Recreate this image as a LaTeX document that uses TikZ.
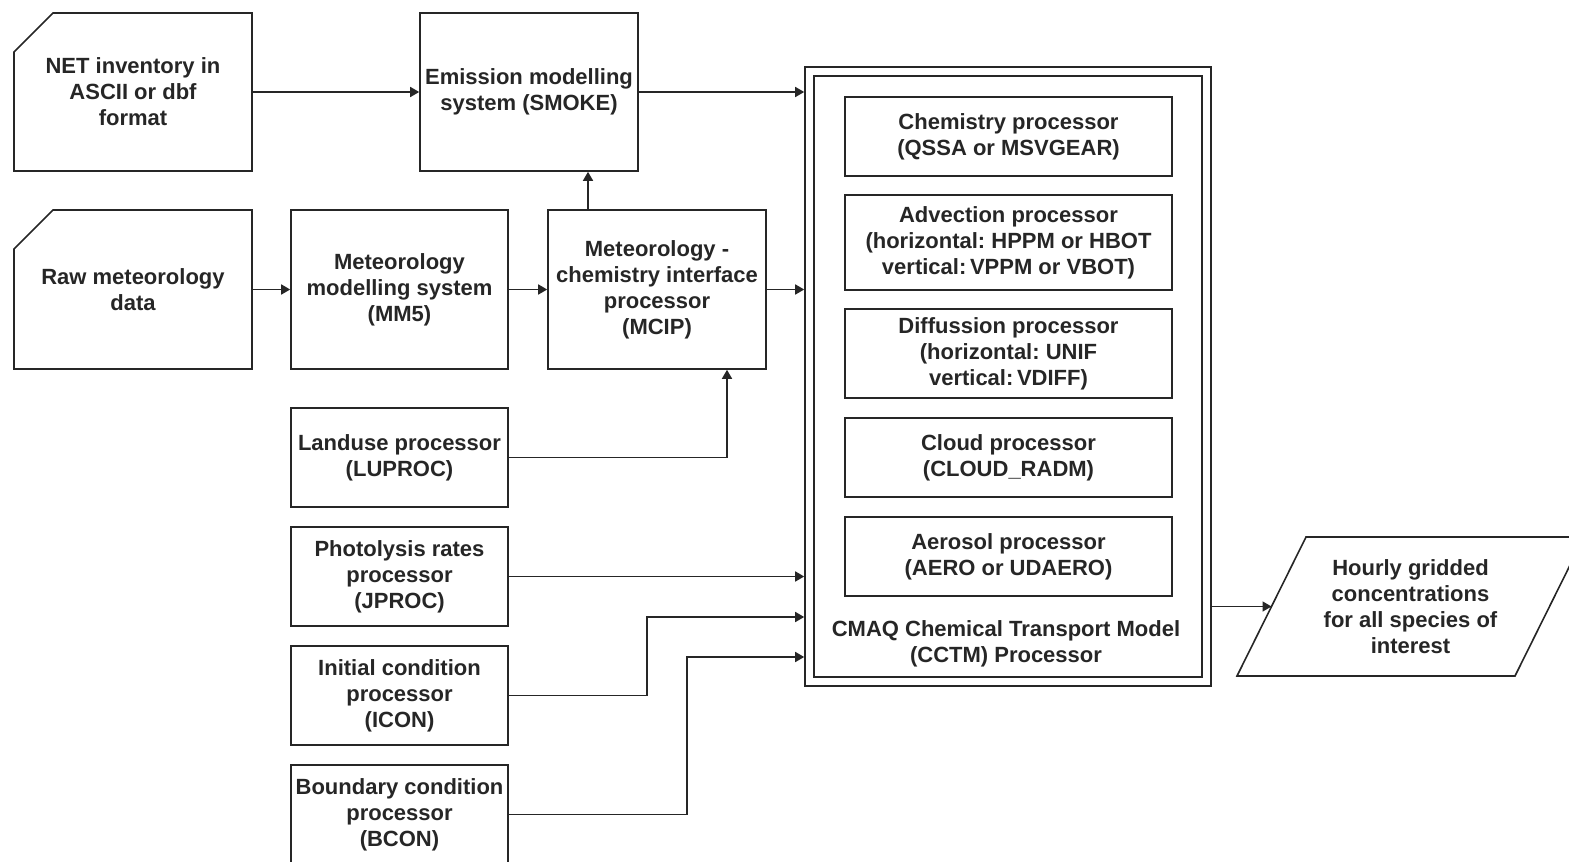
\documentclass[tikz,border=0pt]{standalone}
\usepackage{fontspec}
\setmainfont{Liberation Sans}
\frenchspacing
\usetikzlibrary{arrows.meta}
\tikzset{
  proc/.style={draw=black!85,line width=0.8pt,align=center,inner sep=1pt,
    font=\bfseries\fontsize{11}{13}\selectfont,text=black!85},
  datain/.style={proc,draw=none,outer sep=0pt},
  edge/.style={draw=black!85,line width=0.8pt},
  flow/.style={edge,-{Triangle[length=4.5pt,width=5pt]}}
}
\begin{document}
\begin{tikzpicture}[x=0.5pt,y=-0.5pt]
                \useasboundingbox (0,0) rectangle (1569,862);
                %% input data
                \node[datain,minimum width=119pt,minimum height=79pt] (net) at (133,92) {NET inventory in\\ASCII or dbf\\format};
                \node[datain,minimum width=119pt,minimum height=79.5pt] (raw) at (133,289.5) {Raw meteorology\\data};
                \foreach \n in {net,raw}
                  \draw[edge] ([yshift=-19.5pt]\n.north west) -- ([xshift=19.5pt]\n.north west) -- (\n.north east)
                    -- (\n.south east) -- (\n.south west) -- cycle;
                %% pre-processors
                \node[proc,minimum width=109pt,minimum height=79pt] (emis) at (529,92) {Emission modelling\\system (SMOKE)};
                \node[proc,minimum width=108.5pt,minimum height=79.5pt] (mm5) at (399.5,289.5) {Meteorology\\modelling system\\(MM5)};
                \node[proc,minimum width=109pt,minimum height=79.5pt] (mcip) at (657,289.5) {Meteorology -\\chemistry interface\\processor\\(MCIP)};
                \node[proc,minimum width=108.5pt,minimum height=49.5pt] (landuse) at (399.5,457.5) {Landuse processor\\(LUPROC)};
                \node[proc,minimum width=108.5pt,minimum height=49.5pt] (photo) at (399.5,576.5) {Photolysis rates\\processor\\(JPROC)};
                \node[proc,minimum width=108.5pt,minimum height=49.5pt] (icon) at (399.5,695.5) {Initial condition\\processor\\(ICON)};
                \node[proc,minimum width=108.5pt,minimum height=49.5pt] (bcon) at (399.5,814.5) {Boundary condition\\processor\\(BCON)};
                %% CCTM
                \node[proc,minimum width=203pt,minimum height=309.5pt] (cctm) at (1008,376.5) {};
                \draw[edge] ([xshift=5pt,yshift=-5pt]cctm.north west) rectangle ([xshift=-5pt,yshift=5pt]cctm.south east);
                \node[proc,minimum width=163.5pt,minimum height=39.5pt] (chem) at (1008.5,136.5) {Chemistry processor\\(QSSA or MSVGEAR)};
                \node[proc,minimum width=163.5pt,minimum height=47.5pt] (adv) at (1008.5,242.5) {Advection processor\\(horizontal: HPPM or HBOT\\vertical:\,VPPM or VBOT)};
                \node[proc,minimum width=163.5pt,minimum height=44.5pt] (diff) at (1008.5,353.5) {Diffussion processor\\(horizontal: UNIF\\vertical:\,VDIFF)};
                \node[proc,minimum width=163.5pt,minimum height=39.5pt] (cloud) at (1008.5,457.5) {Cloud processor\\(CLOUD\_RADM)};
                \node[proc,minimum width=163.5pt,minimum height=39.5pt] (aero) at (1008.5,556.5) {Aerosol processor\\(AERO or UDAERO)};
                \node[proc,draw=none] (cctmname) at (1006,644) {CMAQ Chemical Transport Model\\(CCTM) Processor};
                %% output
                \node[proc,draw=none] (hourly) at (1410.5,606.5) {Hourly gridded\\concentrations\\for all species of\\interest};
                \draw[edge] (1306,537) -- (1584,537) -- (1515,676) -- (1237,676) -- cycle;
                \coordinate (hourlyin) at (1271.5,606.5);
                %% connectors
                \coordinate (icturn) at (647,617);
                \coordinate (bcturn) at (687,657);
                \draw[flow] (net.east) -- (emis.west);
                \draw[flow] (emis.east) -- (emis.east -| cctm.west);
                \draw[flow] (raw.east) -- (mm5.west);
                \draw[flow] (mm5) -- (mcip);
                \draw[flow] (mcip.east) -- (mcip.east -| cctm.west);
                \draw[flow] ([xshift=-34.5pt]mcip.north) -- ([xshift=-34.5pt]mcip.north |- emis.south);
                \draw[flow] (landuse.east) -| ([xshift=35pt]mcip.south);
                \draw[flow] (photo.east) -- (photo.east -| cctm.west);
                \draw[flow] (icon.east) -| (icturn) -- (icturn -| cctm.west);
                \draw[flow] (bcon.east) -| (bcturn) -- (bcturn -| cctm.west);
                \draw[flow] (cctm.east |- hourlyin) -- (hourlyin);
            \end{tikzpicture}
\end{document}
